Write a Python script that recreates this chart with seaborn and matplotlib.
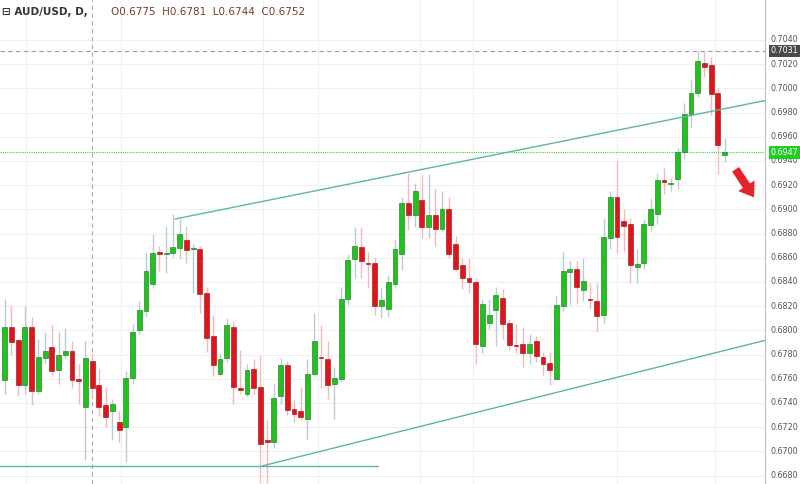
import numpy as np
import pandas as pd
import seaborn as sns
import matplotlib
matplotlib.use("Agg")
import matplotlib.pyplot as plt

# daily AUD/USD candles (prices)
opens = [0.6759, 0.6803, 0.6792, 0.6755, 0.6803, 0.6750, 0.6777, 0.6786, 0.6767, 0.6780,
         0.6783, 0.6760, 0.6737, 0.6775, 0.6755, 0.6738, 0.6733, 0.6724, 0.6720, 0.6761,
         0.6800, 0.6816, 0.6838, 0.6865, 0.6863, 0.6864, 0.6868, 0.6875, 0.6867, 0.6867,
         0.6831, 0.6795, 0.6764, 0.6777, 0.6803, 0.6752, 0.6747, 0.6768, 0.6753, 0.6709,
         0.6708, 0.6746, 0.6771, 0.6735, 0.6733, 0.6727, 0.6764, 0.6778, 0.6776, 0.6756,
         0.6760, 0.6826, 0.6859, 0.6869, 0.6856, 0.6856, 0.6820, 0.6818, 0.6838, 0.6863,
         0.6905, 0.6895, 0.6908, 0.6885, 0.6895, 0.6884, 0.6900, 0.6871, 0.6854, 0.6843,
         0.6840, 0.6787, 0.6806, 0.6817, 0.6827, 0.6806, 0.6788, 0.6789, 0.6781, 0.6791,
         0.6778, 0.6773, 0.6760, 0.6820, 0.6848, 0.6851, 0.6833, 0.6826, 0.6824, 0.6813,
         0.6876, 0.6910, 0.6890, 0.6888, 0.6852, 0.6856, 0.6887, 0.6896, 0.6924, 0.6921,
         0.6925, 0.6947, 0.6979, 0.6996, 0.7021, 0.7019, 0.6996, 0.6945]
highs = [0.6826, 0.6821, 0.6793, 0.6820, 0.6811, 0.6793, 0.6799, 0.6804, 0.6799, 0.6802,
         0.6791, 0.6772, 0.6791, 0.6781, 0.6768, 0.6753, 0.6743, 0.6733, 0.6766, 0.6805,
         0.6824, 0.6864, 0.6880, 0.6870, 0.6886, 0.6896, 0.6892, 0.6886, 0.6871, 0.6870,
         0.6836, 0.6813, 0.6781, 0.6810, 0.6807, 0.6784, 0.6772, 0.6776, 0.6780, 0.6726,
         0.6756, 0.6777, 0.6775, 0.6743, 0.6753, 0.6776, 0.6814, 0.6804, 0.6791, 0.6770,
         0.6836, 0.6863, 0.6885, 0.6885, 0.6865, 0.6861, 0.6835, 0.6846, 0.6875, 0.6910,
         0.6930, 0.6922, 0.6928, 0.6929, 0.6917, 0.6915, 0.6910, 0.6878, 0.6860, 0.6860,
         0.6843, 0.6826, 0.6826, 0.6836, 0.6834, 0.6809, 0.6805, 0.6803, 0.6797, 0.6795,
         0.6782, 0.6782, 0.6828, 0.6865, 0.6857, 0.6857, 0.6860, 0.6839, 0.6839, 0.6893,
         0.6915, 0.6940, 0.6900, 0.6893, 0.6867, 0.6892, 0.6909, 0.6930, 0.6934, 0.6926,
         0.6951, 0.6988, 0.7007, 0.7031, 0.7030, 0.7026, 0.7000, 0.6959]
lows = [0.6747, 0.6780, 0.6746, 0.6747, 0.6738, 0.6747, 0.6772, 0.6762, 0.6756, 0.6777,
        0.6752, 0.6739, 0.6693, 0.6744, 0.6730, 0.6720, 0.6709, 0.6708, 0.6691, 0.6756,
        0.6797, 0.6811, 0.6835, 0.6849, 0.6847, 0.6861, 0.6859, 0.6856, 0.6831, 0.6814,
        0.6782, 0.6762, 0.6762, 0.6774, 0.6739, 0.6747, 0.6746, 0.6747, 0.6674, 0.6674,
        0.6703, 0.6739, 0.6730, 0.6724, 0.6726, 0.6710, 0.6762, 0.6752, 0.6743, 0.6727,
        0.6757, 0.6821, 0.6843, 0.6843, 0.6835, 0.6813, 0.6810, 0.6811, 0.6835, 0.6850,
        0.6883, 0.6885, 0.6876, 0.6876, 0.6870, 0.6882, 0.6860, 0.6849, 0.6834, 0.6831,
        0.6772, 0.6781, 0.6801, 0.6787, 0.6793, 0.6784, 0.6781, 0.6770, 0.6772, 0.6774,
        0.6763, 0.6755, 0.6760, 0.6816, 0.6821, 0.6822, 0.6824, 0.6818, 0.6799, 0.6806,
        0.6867, 0.6864, 0.6865, 0.6839, 0.6839, 0.6851, 0.6882, 0.6888, 0.6913, 0.6915,
        0.6917, 0.6942, 0.6968, 0.6993, 0.7009, 0.6978, 0.6929, 0.6939]
closes = [0.6803, 0.6790, 0.6755, 0.6803, 0.6750, 0.6778, 0.6783, 0.6766, 0.6780, 0.6783,
          0.6759, 0.6758, 0.6777, 0.6752, 0.6737, 0.6728, 0.6739, 0.6718, 0.6761, 0.6799,
          0.6817, 0.6849, 0.6864, 0.6863, 0.6864, 0.6869, 0.6880, 0.6866, 0.6868, 0.6830,
          0.6794, 0.6771, 0.6776, 0.6804, 0.6753, 0.6751, 0.6767, 0.6752, 0.6706, 0.6708,
          0.6744, 0.6771, 0.6734, 0.6731, 0.6728, 0.6764, 0.6791, 0.6777, 0.6755, 0.6761,
          0.6826, 0.6858, 0.6870, 0.6857, 0.6855, 0.6820, 0.6825, 0.6840, 0.6867, 0.6905,
          0.6895, 0.6915, 0.6885, 0.6895, 0.6884, 0.6900, 0.6863, 0.6851, 0.6843, 0.6840,
          0.6789, 0.6822, 0.6813, 0.6829, 0.6805, 0.6788, 0.6787, 0.6781, 0.6789, 0.6779,
          0.6772, 0.6767, 0.6821, 0.6849, 0.6851, 0.6836, 0.6841, 0.6825, 0.6812, 0.6877,
          0.6910, 0.6877, 0.6886, 0.6854, 0.6855, 0.6888, 0.6900, 0.6924, 0.6923, 0.6922,
          0.6947, 0.6979, 0.6996, 0.7023, 0.7018, 0.6995, 0.6953, 0.6947]

y_ticks = [0.6680 + 0.0020 * i for i in range(19)]
last_price = 0.6947
high_mark = 0.7031

df = pd.DataFrame({"open": opens, "high": highs, "low": lows, "close": closes})
df["x"] = np.arange(len(df))
df["up"] = df["close"] >= df["open"]

sns.set_style("white")
fig = plt.figure(figsize=(8, 4.84), dpi=100)
ax = fig.add_axes([0, 0, 765 / 800, 1])

green, red = "#1ec31e", "#e3131b"
for up, g in df.groupby("up"):
    body_col = green if up else red
    wick_col = "#b9ccd2" if up else "#f4b9bb"
    ax.vlines(g["x"], g["low"], g["high"], color=wick_col, lw=1, zorder=2)
    lo = g[["open", "close"]].min(axis=1)
    hi = g[["open", "close"]].max(axis=1)
    ax.bar(g["x"], (hi - lo).clip(lower=0.00003), bottom=lo, width=0.72,
           color=body_col, edgecolor="#1a6e1a" if up else "#8a1010", lw=0.4, zorder=3)

ax.set_xlim(-0.7, 113)
ax.set_ylim(0.6673, 0.7073)
ax.set_xticks([])
ax.set_yticks(y_ticks)
ax.set_yticklabels([])
ax.tick_params(axis="y", length=3, color="#bbbbbb")
ax.grid(axis="y", color="#f0f0f0", lw=0.8)
for gx in [3.2, 17.3, 38.4, 46.6, 61.7, 69.6, 91, 105.6]:
    ax.axvline(gx, color="#f0f0f0", lw=0.8, zorder=0)
for s in ["top", "left", "bottom"]:
    ax.spines[s].set_visible(False)
ax.spines["right"].set_color("#bbbbbb")

# trend lines
teal = "#5fb5a5"
ax.plot([25.3, 114.9], [0.6892, 0.6992], color=teal, lw=1, zorder=4)
ax.plot([38.3, 116.1], [0.6688, 0.6796], color=teal, lw=1, zorder=4)
ax.plot([-0.7, 55.5], [0.6688, 0.6688], color=teal, lw=1, zorder=4)

ax.axhline(high_mark, color="#999999", lw=0.8, ls=(0, (4, 3)), zorder=1)
ax.axhline(last_price, color="#3ad33a", lw=0.8, ls=(0, (1, 1)), zorder=1)
ax.axvline(13, color="#aaaaaa", lw=0.8, ls=(0, (4, 3)), zorder=1)

ax.annotate("", xy=(111.6, 0.6908), xytext=(108.4, 0.6935),
            arrowprops=dict(arrowstyle="simple,head_width=1.4,head_length=1.0,tail_width=0.6",
                            color="#e8222a", lw=0))

# right price axis labels
tr = ax.get_yaxis_transform()
for t in y_ticks:
    if abs(t - 0.6947) < 0.0006 or abs(t - 0.7031) < 0.0006:
        continue
    ax.text(1.007, t, f"{t:.4f}", transform=tr, fontsize=5.8, color="#555555",
            va="center", ha="left", clip_on=False)
ax.text(1.007, high_mark, f"{high_mark:.4f}", transform=tr, fontsize=5.8, color="white",
        va="center", ha="left", clip_on=False,
        bbox=dict(boxstyle="square,pad=0.2", fc="#4a4a4a", ec="none"))
ax.text(1.007, last_price, f"{last_price:.4f}", transform=tr, fontsize=5.8, color="white",
        va="center", ha="left", clip_on=False,
        bbox=dict(boxstyle="square,pad=0.2", fc="#22cc22", ec="none"))

# header
ax.text(0.003, 0.985, "\u229f AUD/USD, D,", transform=ax.transAxes, fontsize=7.5,
        color="#333333", va="top", fontweight="bold")
ax.text(0.145, 0.985, "O0.6775  H0.6781  L0.6744  C0.6752", transform=ax.transAxes,
        fontsize=7.5, color="#7a3b2a", va="top")

fig.savefig("out.png", dpi=100)
